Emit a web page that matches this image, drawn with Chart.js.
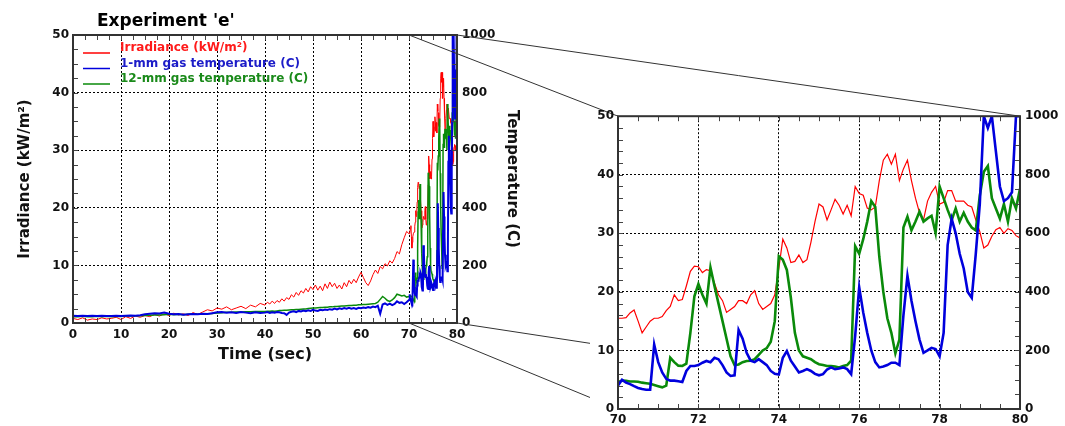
<!DOCTYPE html>
<html><head><meta charset="utf-8">
<script src="https://cdn.jsdelivr.net/npm/chart.js@4.4.0/dist/chart.umd.min.js"></script>
<style>
html,body{margin:0;padding:0;background:#fff;}
#wrap{position:relative;width:1065px;height:426px;overflow:hidden;background:#fff;}
canvas{position:absolute;}
#left{left:0;top:0;}
#links{left:0;top:0;}
#right{left:590px;top:104px;}
</style></head><body>
<div id="wrap">
<canvas id="left" width="560" height="426"></canvas>
<canvas id="links" width="1065" height="426"></canvas>
<canvas id="right" width="475" height="322"></canvas>
</div>
<script>
// ---------- DATA ----------
const tEarly = [0,1,2,3,4,5,6,7,8,9,10,11,12,13,14,15,16,17,18,19,20,21,22,23,24,25,26,27,28,29,30,31,32,33,34,35,36,37,38,39,
40,40.5,41,41.5,42,42.5,43,43.5,44,44.5,45,45.5,46,46.5,47,47.5,48,48.5,49,49.5,50,50.5,51,51.5,52,52.5,53,53.5,54,54.5,
55,55.5,56,56.5,57,57.5,58,58.5,59,59.5,60,60.5,61,61.5,62,62.5,63,63.5,64,64.5,65,65.5,66,66.5,67,67.5,68,68.5,69,69.5];
const tZoom = [70.0,70.1,70.2,70.3,70.4,70.5,70.6,70.7,70.8,70.9,71.0,71.1,71.2,71.3,71.4,71.5,71.6,71.7,71.8,71.9,
72.0,72.1,72.2,72.3,72.4,72.5,72.6,72.7,72.8,72.9,73.0,73.1,73.2,73.3,73.4,73.5,73.6,73.7,73.8,73.9,
74.0,74.1,74.2,74.3,74.4,74.5,74.6,74.7,74.8,74.9,75.0,75.1,75.2,75.3,75.4,75.5,75.6,75.7,75.8,75.9,
76.0,76.1,76.2,76.3,76.4,76.5,76.6,76.7,76.8,76.9,77.0,77.1,77.2,77.3,77.4,77.5,77.6,77.7,77.8,77.9,
78.0,78.1,78.2,78.3,78.4,78.5,78.6,78.7,78.8,78.9,79.0,79.1,79.2,79.3,79.4,79.5,79.6,79.7,79.8,79.9,80.0];

// Irradiance (kW/m2)
const irrEarly = [0.8,0.6,0.9,0.5,0.7,0.6,0.9,0.7,0.8,1.0, 0.6,1.1,0.8,1.2,1.0,1.3,1.1,1.5,1.2,1.6,
1.3,1.7,1.4,1.6,1.3,1.8,1.5,1.9,2.3,2.1, 2.6,2.4,2.8,2.3,2.6,2.9,2.5,3.1,2.8,3.4,
3.1,3.6,3.3,3.8,3.4,3.9,3.6,4.2,3.8,4.4, 4.1,4.9,4.5,5.3,4.8,5.6,5.2,6.0,5.4,6.3,
5.8,6.6,5.7,6.4,5.6,6.8,6.0,7.1,6.3,6.9, 6.0,6.6,5.9,7.0,6.3,7.4,6.8,7.6,7.0,8.0,
8.8,7.9,7.0,6.5,7.3,8.4,9.2,8.6,9.8,9.4, 10.3,9.9,10.8,10.4,11.2,12.4,12.0,13.6,14.8,15.9];
const irrZoom = [15.5,15.5,15.6,16.4,16.9,15.0,13.0,14.0,15.0,15.5, 15.5,15.8,16.8,17.5,19.5,18.5,18.7,21.0,23.5,24.4,
24.3,23.3,23.8,23.6,21.5,19.5,18.5,16.5,17.0,17.5, 18.5,18.5,18.0,19.5,20.2,18.0,17.0,17.5,18.0,19.5,
24.0,29.0,27.5,25.0,25.2,26.3,25.0,25.5,28.5,32.0, 35.0,34.5,32.3,34.0,35.8,34.8,33.3,34.8,33.0,38.0,
36.8,36.5,34.3,34.0,34.5,39.0,42.5,43.5,41.8,43.5, 39.0,41.0,42.5,39.0,36.0,33.5,32.3,35.5,37.0,38.0,
35.0,35.3,37.3,37.3,35.5,35.5,35.5,34.8,34.5,32.3, 30.3,27.5,28.0,29.5,30.6,31.0,30.0,30.8,30.5,29.6, 29.2];

// 1-mm gas temperature (C)
const gas1Early = [25,24,25,24,25,24,25,24,24,25, 24,25,26,25,27,30,32,34,33,36,
32,30,31,29,30,31,30,32,31,34, 37,38,36,37,35,38,36,34,37,35,
36,38,35,37,36,38,37,35,34,28, 36,39,41,38,42,40,43,41,44,42,
46,43,42,46,44,47,45,48,46,50, 47,51,49,52,50,53,50,52,49,53,
51,54,52,55,53,57,55,60,32,64, 68,63,67,62,66,75,70,72,66,72];
const gas1Zoom = [80,100,90,85,78,72,68,66,66,220, 160,125,103,97,97,95,92,130,147,147,
150,158,164,160,175,170,150,125,113,115, 270,240,192,165,160,170,160,150,130,120,
118,175,198,165,145,125,130,136,130,120, 115,119,135,142,136,138,142,136,119,250,
416,330,260,200,160,142,145,150,158,158, 150,320,455,370,300,237,192,200,209,205,
180,260,560,650,600,530,480,400,380,530, 700,1000,960,1000,880,760,710,720,740,1000, 1000];

// 12-mm gas temperature (C)
const gas12Early = [22,22,23,22,22,23,22,23,22,23, 23,24,24,25,25,26,27,28,28,29,
30,29,30,29,30,31,30,31,32,33, 35,36,37,37,38,38,39,39,40,40,
40,41,41,42,41,42,43,43,44,44, 45,46,46,47,47,48,49,49,50,51,
52,52,53,54,54,55,55,56,56,57, 57,58,59,59,60,61,61,62,62,63,
63,64,64,65,66,67,68,72,82,92, 86,78,75,80,88,100,97,94,96,90];
const gas12Zoom = [92,97,96,94,94,93,90,88,86,82, 78,74,80,175,160,148,147,155,260,385,
427,390,360,483,420,360,300,240,180,150, 152,160,164,165,170,185,200,208,230,300,
522,510,475,380,260,200,180,175,170,160, 153,150,147,147,145,142,147,150,165,556,
530,580,640,710,690,520,400,310,260,190, 237,620,657,610,640,674,640,651,660,601,
760,720,680,645,685,640,670,640,620,610, 729,810,830,720,685,650,700,640,720,685, 752];

const seriesLabels = ['Irradiance (kW/m\u00B2)', '1-mm gas temperature (C)', '12-mm gas temperature (C)'];
const xTicksLeft = [0,10,20,30,40,50,60,70,80];
const xTicksRight = [70,72,74,76,78,80];
const irrTicks = [0,10,20,30,40,50];
const tempTicks = [0,200,400,600,800,1000];

// ---------- BUILD ----------
const times = tEarly.concat(tZoom);
const toPts = (vals) => times.map((t, i) => ({x: t, y: vals[i]}));
const irrPts = toPts(irrEarly.concat(irrZoom));
const gas1Pts = toPts(gas1Early.concat(gas1Zoom));
const gas12Pts = toPts(gas12Early.concat(gas12Zoom));

const FAM = '"DejaVu Sans", "Liberation Sans", sans-serif';
Chart.defaults.font.family = FAM;
const colors = ['#ff0000', '#0000dd', '#0a8a0a'];
const textColors = ['#ff1a1a', '#1c1cc8', '#1a8a1a'];

const framePlugin = {
  id: 'frame',
  afterDraw(chart, args, o) {
    const {ctx, chartArea: a, scales} = chart;
    ctx.save();
    ctx.strokeStyle = '#444';
    ctx.lineWidth = 1;
    const seg = (x1, y1, x2, y2) => { ctx.beginPath(); ctx.moveTo(x1, y1); ctx.lineTo(x2, y2); ctx.stroke(); };
    const len = 5;
    const each = (sc, step, fn) => {
      const n = Math.round((sc.max - sc.min) / step);
      for (let i = 0; i <= n; i++) fn(Math.round(sc.getPixelForValue(sc.min + i * step)) + 0.5);
    };
    each(scales.x, o.xMinor, p => { seg(p, a.bottom, p, a.bottom - len); seg(p, a.top, p, a.top + len); });
    each(scales.y, o.yMinor, p => { seg(a.left, p, a.left + len, p); });
    each(scales.y2, o.y2Minor, p => { seg(a.right, p, a.right - len, p); });
    ctx.strokeStyle = '#333';
    ctx.lineWidth = 2;
    ctx.strokeRect(a.left, a.top, a.right - a.left, a.bottom - a.top);
    ctx.restore();
  }
};

const legendPlugin = {
  id: 'inLegend',
  afterDraw(chart, args, o) {
    if (!o.show) return;
    const {ctx, chartArea: a} = chart;
    ctx.save();
    ctx.font = 'bold 12px ' + FAM;
    ctx.textBaseline = 'middle';
    ctx.textAlign = 'left';
    seriesLabels.forEach((lab, i) => {
      const y = a.top + 13 + i * 15.5;
      ctx.strokeStyle = colors[i];
      ctx.lineWidth = 1.5;
      ctx.beginPath(); ctx.moveTo(a.left + 10, y + 5); ctx.lineTo(a.left + 37, y + 5); ctx.stroke();
      ctx.fillStyle = textColors[i];
      ctx.fillText(lab, a.left + 47, y);
    });
    ctx.font = 'bold 17px ' + FAM;
    ctx.fillStyle = '#000';
    ctx.textBaseline = 'alphabetic';
    ctx.fillText("Experiment 'e'", a.left + 24, a.top - 9);
    ctx.restore();
  }
};

function makeChart(id, cfg) {
  const tickFont = {family: FAM, size: 12, weight: 'bold'};
  const titleFont = {family: FAM, size: 15, weight: 'bold'};
  const setTicks = (arr) => (s) => { s.ticks = arr.map(v => ({value: v})); };
  const plain = (v) => String(v);
  return new Chart(document.getElementById(id), {
    type: 'line',
    data: {
      datasets: [
        {label: seriesLabels[0], data: irrPts, yAxisID: 'y', borderColor: colors[0], borderWidth: cfg.lw[0], order: 3},
        {label: seriesLabels[1], data: gas1Pts, yAxisID: 'y2', borderColor: colors[1], borderWidth: cfg.lw[1], order: 1},
        {label: seriesLabels[2], data: gas12Pts, yAxisID: 'y2', borderColor: colors[2], borderWidth: cfg.lw[2], order: 2}
      ]
    },
    options: {
      responsive: false, animation: false, events: [],
      elements: {point: {radius: 0}, line: {tension: 0}},
      layout: {padding: {top: cfg.padTop, left: 0, right: 0, bottom: 0}},
      plugins: {
        legend: {display: false}, tooltip: {enabled: false},
        frame: {xMinor: cfg.xMinor, yMinor: cfg.yMinor, y2Minor: 50},
        inLegend: {show: cfg.legend}
      },
      scales: {
        x: {
          type: 'linear', min: cfg.xMin, max: cfg.xMax,
          afterBuildTicks: setTicks(cfg.xTicks),
          afterFit: (s) => { s.height = cfg.xH; },
          grid: {color: '#000', lineWidth: 1, drawTicks: false},
          border: {display: false, dash: [2, 2]},
          ticks: {font: tickFont, color: '#111', padding: cfg.xPad, autoSkip: false, maxRotation: 0, callback: plain},
          title: {display: !!cfg.xTitle, text: cfg.xTitle || '', font: {family: FAM, size: 16, weight: 'bold'}, color: '#111', padding: {top: 0, bottom: 62}}
        },
        y: {
          position: 'left', min: 0, max: 50,
          afterBuildTicks: setTicks(irrTicks),
          afterFit: (s) => { s.width = cfg.yW; },
          grid: {color: '#000', lineWidth: 1, drawTicks: false},
          border: {display: false, dash: [2, 2]},
          ticks: {font: tickFont, color: '#111', padding: 4, callback: plain},
          title: {display: !!cfg.yTitle, text: cfg.yTitle || '', font: titleFont, color: '#111', padding: {top: 16, bottom: 0}}
        },
        y2: {
          position: 'right', min: 0, max: 1000,
          afterBuildTicks: setTicks(tempTicks),
          afterFit: (s) => { s.width = cfg.y2W; },
          grid: {display: false, drawTicks: false},
          border: {display: false},
          ticks: {font: tickFont, color: '#111', padding: 5, callback: plain},
          title: {display: !!cfg.y2Title, text: cfg.y2Title || '', font: titleFont, color: '#111', padding: {top: 39, bottom: 0}}
        }
      }
    },
    plugins: [framePlugin, legendPlugin]
  });
}

const leftChart = makeChart('left', {
  lw: [1, 2, 1.5], padTop: 35, xMin: 0, xMax: 80, xTicks: xTicksLeft, xH: 103, xPad: 5,
  yW: 73, y2W: 103, xMinor: 2.5, yMinor: 2.5, legend: true,
  xTitle: 'Time (sec)', yTitle: 'Irradiance (kW/m\u00B2)', y2Title: 'Temperature (C)'
});
const rightChart = makeChart('right', {
  lw: [1.2, 2.6, 2.6], padTop: 7, xMin: 70, xMax: 80, xTicks: xTicksRight, xH: 17, xPad: 4,
  yW: 28, y2W: 45, xMinor: 0.5, yMinor: 2, legend: false
});

// ---------- connector lines between the two panels ----------
(function drawLinks() {
  const lc = document.getElementById('left'), rc = document.getElementById('right');
  const cv = document.getElementById('links');
  const ctx = cv.getContext('2d');
  const pt = (ch, el, xv, yv) => [el.offsetLeft + ch.scales.x.getPixelForValue(xv), el.offsetTop + ch.scales.y.getPixelForValue(yv)];
  ctx.strokeStyle = '#333';
  ctx.lineWidth = 1;
  [[70, 50], [80, 50], [70, 0], [80, 0]].forEach(([xv, yv]) => {
    const a = pt(leftChart, lc, xv, yv), b = pt(rightChart, rc, xv, yv);
    ctx.beginPath(); ctx.moveTo(a[0], a[1]); ctx.lineTo(b[0], b[1]); ctx.stroke();
  });
  ctx.clearRect(rc.offsetLeft, rc.offsetTop + rightChart.chartArea.top, cv.width, cv.height);
})();
</script>
</body></html>
